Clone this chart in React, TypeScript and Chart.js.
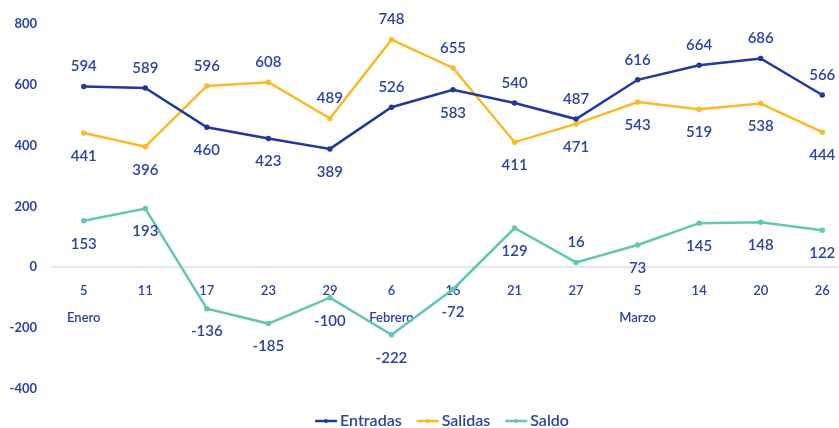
import { useEffect, useRef } from 'react';
import { Chart, registerables } from 'chart.js';

Chart.register(...registerables);

const days = ['5', '11', '17', '23', '29', '6', '16', '21', '27', '5', '14', '20', '26'];
const months = ['Enero', '', '', '', '', 'Febrero', '', '', '', 'Marzo', '', '', ''];
const entradas = [594, 589, 460, 423, 389, 526, 583, 540, 487, 616, 664, 686, 566];
const salidas = [441, 396, 596, 608, 489, 748, 655, 411, 471, 543, 519, 538, 444];
const saldo = [153, 193, -136, -185, -100, -222, -72, 129, 16, 73, 145, 148, 122];
const seriesNames = ['Entradas', 'Salidas', 'Saldo'];
const entradasLabelSide = ['above', 'above', 'below', 'below', 'below', 'above', 'below', 'above', 'above', 'above', 'above', 'above', 'above'];
const salidasLabelSide = ['below', 'below', 'above', 'above', 'above', 'above', 'above', 'below', 'below', 'below', 'below', 'below', 'below'];
const saldoLabelSide = ['below', 'below', 'below', 'below', 'below', 'below', 'below', 'below', 'above', 'below', 'below', 'below', 'below'];
const yMin = -400;
const yMax = 800;
const yStep = 200;

const FONT = 'Lato, "Open Sans", sans-serif';
const TEXT = '#2a43a2';
const BLUE = '#1f3a9c';
const YELLOW = '#fbb928';
const TEAL = '#62c6b3';

const labelSides = [entradasLabelSide, salidasLabelSide, saldoLabelSide];

const dataLabelPlugin = {
  id: 'dataLabels',
  afterDatasetsDraw(chart: any) {
    const ctx = chart.ctx;
    ctx.save();
    ctx.font = `600 15px ${FONT}`;
    ctx.fillStyle = TEXT;
    ctx.textAlign = 'center';
    ctx.textBaseline = 'middle';
    chart.data.datasets.forEach((ds: any, di: number) => {
      const meta = chart.getDatasetMeta(di);
      meta.data.forEach((pt: any, i: number) => {
        const side = labelSides[di][i];
        const y = side === 'above' ? pt.y - 20 : pt.y + 23;
        ctx.fillText(String(ds.data[i]), pt.x, y);
      });
    });
    ctx.restore();
  },
};

const legendPlugin = {
  id: 'customLegend',
  afterDraw(chart: any) {
    const ctx = chart.ctx;
    ctx.save();
    ctx.font = `600 16px ${FONT}`;
    ctx.textBaseline = 'middle';
    const marker = 22;
    const gap = 3;
    const spacing = 15;
    const items = chart.data.datasets.map((ds: any) => ({
      text: ds.label,
      color: ds.borderColor,
      w: ctx.measureText(ds.label).width,
    }));
    const total = items.reduce((s: number, it: any) => s + marker + gap + it.w, 0) + spacing * (items.length - 1);
    let x = 442 - total / 2;
    const y = 421;
    items.forEach((it: any) => {
      ctx.strokeStyle = it.color;
      ctx.lineWidth = 2.5;
      ctx.beginPath();
      ctx.moveTo(x, y);
      ctx.lineTo(x + marker, y);
      ctx.stroke();
      ctx.fillStyle = it.color;
      ctx.beginPath();
      ctx.arc(x + marker / 2, y, 2, 0, Math.PI * 2);
      ctx.fill();
      ctx.fillStyle = TEXT;
      ctx.textAlign = 'left';
      ctx.fillText(it.text, x + marker + gap, y);
      x += marker + gap + it.w + spacing;
    });
    ctx.restore();
  },
};

export default function App() {
  const ref = useRef<HTMLCanvasElement>(null);
  useEffect(() => {
    if (!ref.current) return;
    const colors = [BLUE, YELLOW, TEAL];
    const series = [entradas, salidas, saldo];
    const chart = new Chart(ref.current, {
      type: 'line',
      data: {
        labels: days.map((d, i) => [d, months[i]]),
        datasets: series.map((s, i) => ({
          label: seriesNames[i],
          data: s,
          borderColor: colors[i],
          backgroundColor: colors[i],
          borderWidth: 2.5,
          pointRadius: 1.5,
          pointHoverRadius: 1.5,
          tension: 0,
          fill: false,
        })),
      },
      options: {
        responsive: false,
        animation: false,
        events: [],
        layout: { padding: { top: 17, bottom: 39, left: 0, right: 0 } },
        plugins: { legend: { display: false }, tooltip: { enabled: false } },
        scales: {
          x: {
            type: 'category',
            position: { y: 0 } as any,
            offset: true,
            grid: { display: false, drawTicks: false },
            border: { display: true, color: '#e6e6e6', width: 2 },
            ticks: {
              color: TEXT,
              font: { family: FONT, size: 13, weight: '600', lineHeight: '27px' as any },
              padding: 10,
              maxRotation: 0,
              autoSkip: false,
            },
          },
          y: {
            min: yMin,
            max: yMax,
            grid: { display: false, drawTicks: false },
            border: { display: false },
            ticks: {
              stepSize: yStep,
              color: TEXT,
              font: { family: FONT, size: 13, weight: 'bold' },
              padding: 16,
            },
            afterFit: (scale: any) => {
              scale.width = 53;
            },
          },
        },
      },
      plugins: [dataLabelPlugin, legendPlugin],
    });
    return () => chart.destroy();
  }, []);
  return (
    <div style={{ position: 'fixed', left: 0, top: 0, width: 839, height: 428, overflow: 'hidden', background: '#fff' }}>
      <canvas ref={ref} width={857} height={428} style={{ width: 857, height: 428, display: 'block' }} />
    </div>
  );
}
